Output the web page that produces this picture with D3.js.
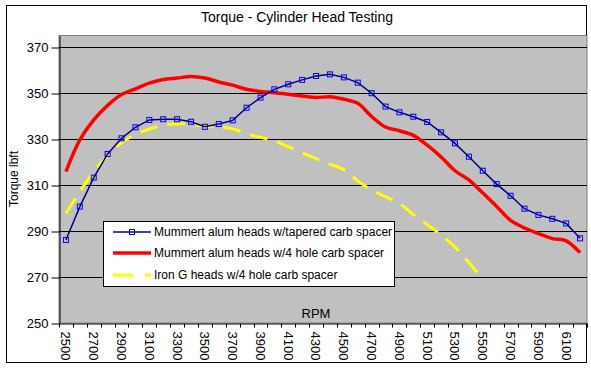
<!DOCTYPE html>
<html><head><meta charset="utf-8">
<script src="https://cdn.jsdelivr.net/npm/d3@7"></script>
<style>body{margin:0;background:#fff}svg{display:block;font-family:"Liberation Sans",Arial,sans-serif}</style>
</head><body><svg id="c" width="591" height="369"></svg>
<script>
const rpm = d3.range(2500, 6201, 100);
const tapered = [286.1,300.6,313.2,323.5,330.3,335.1,338.3,338.6,338.6,337.5,335.3,336.5,338.1,343.6,348.0,351.6,353.8,355.7,357.4,358.1,356.8,354.5,349.9,344.1,341.6,339.7,337.4,332.9,328.1,322.3,316.2,310.4,305.3,299.7,297.0,295.3,293.3,286.8];
const fourHole = [315.8,329.6,338.3,344.6,349.3,351.8,354.3,355.9,356.5,357.2,356.5,354.8,353.4,351.6,350.7,350.1,349.5,348.7,348.0,348.4,347.3,345.5,339.8,335.2,333.6,331.6,327.3,322.2,316.2,312.2,306.5,300.7,294.6,291.3,288.9,286.7,285.7,280.6];
const ironG = [297.6,307.1,315.8,322.6,328.3,332.0,334.3,336.0,336.5,336.5,335.4,335.3,334.4,332.3,330.7,329.2,326.7,324.0,321.5,319.1,316.7,311.8,307.8,304.9,302.0,297.1,292.8,288.3,283.0,276.3,268.9];
const yTicks = [250,270,290,310,330,350,370];
const xLabels = rpm.filter((d,i)=>i%2===0);
const seriesNames = ["Mummert alum heads w/tapered carb spacer","Mummert alum heads w/4 hole carb spacer","Iron G heads w/4 hole carb spacer"];

const svg = d3.select("#c");
const L=59, R=587, T=35.5, B=323;
svg.append("rect").attr("x",6.5).attr("y",5.5).attr("width",580).attr("height",357).attr("fill","#fff").attr("stroke","#000");
svg.append("rect").attr("x",L).attr("y",T).attr("width",R-L).attr("height",B-T).attr("fill","#c0c0c0").attr("stroke","#808080");

const x = d3.scaleBand().domain(rpm).range([L,R]).padding(0);
const y = d3.scaleLinear().domain([250,375]).range([B,T]);
const cx = d => x(d)+x.bandwidth()/2;

// gridlines
svg.append("g").selectAll("line").data(yTicks.slice(1)).join("line")
  .attr("x1",L).attr("x2",R).attr("y1",d=>Math.round(y(d))+0.5).attr("y2",d=>Math.round(y(d))+0.5)
  .attr("stroke","#000");

// y axis
const ya = svg.append("g").attr("transform",`translate(${L+0.5},0)`)
  .call(d3.axisLeft(y).tickValues(yTicks).tickSize(8).tickPadding(3).tickSizeOuter(0));
ya.select(".domain").attr("stroke","#000");
ya.selectAll(".tick line").attr("transform","translate(0,0.5)");
ya.selectAll("text").attr("font-size",13).attr("font-family","Liberation Sans, Arial").attr("fill","#000");

// x axis
const xa = svg.append("g").attr("transform",`translate(0,${B+0.5})`)
  .call(d3.axisBottom(x).tickValues([]).tickSizeOuter(0));
xa.select(".domain").attr("stroke","#000");
xa.selectAll(".bt").data(rpm.concat([6300])).join("line")
  .attr("x1",(d,i)=>Math.round(L+i*x.bandwidth())+0.5).attr("x2",(d,i)=>Math.round(L+i*x.bandwidth())+0.5)
  .attr("y1",0).attr("y2",4).attr("stroke","#000");
xa.selectAll(".lbl").data(xLabels).join("text")
  .attr("transform",d=>`translate(${cx(d)},8) rotate(90)`)
  .attr("dy","0.35em").attr("text-anchor","start")
  .attr("font-size",13).attr("fill","#000").text(d=>d);

// lines
const pts = arr => arr.map((v,i)=>[cx(rpm[i]),y(v)]);
const smooth = d3.line().curve(d3.curveCatmullRom.alpha(0.5));
const straight = d3.line();
svg.append("path").attr("d",smooth(pts(ironG))).attr("fill","none").attr("stroke","#ffff00").attr("stroke-width",3).attr("stroke-dasharray","18,10");
svg.append("path").attr("d",smooth(pts(fourHole))).attr("fill","none").attr("stroke","#ff0000").attr("stroke-width",3.5);
svg.append("path").attr("d",straight(pts(tapered))).attr("fill","none").attr("stroke","#000080").attr("stroke-width",1.5);
svg.append("g").selectAll("rect").data(pts(tapered)).join("rect")
  .attr("x",d=>d[0]-2.5).attr("y",d=>d[1]-2.5).attr("width",5).attr("height",5)
  .attr("fill","none").attr("stroke","#0000ff").attr("stroke-width",1);

// title & axis titles
svg.append("text").attr("x",297).attr("y",22).attr("text-anchor","middle").attr("font-size",14).text("Torque - Cylinder Head Testing");
svg.append("text").attr("transform","translate(18,179) rotate(-90)").attr("text-anchor","middle").attr("font-size",12).text("Torque lbft");
svg.append("text").attr("x",316).attr("y",318).attr("text-anchor","middle").attr("font-size",13).text("RPM");

// legend
const lg = svg.append("g");
lg.append("rect").attr("x",103.5).attr("y",221.5).attr("width",291).attr("height",65).attr("fill","#fff").attr("stroke","#000");
const rowsY = [232,253,275];
lg.append("line").attr("x1",113).attr("x2",151).attr("y1",rowsY[0]).attr("y2",rowsY[0]).attr("stroke","#000080").attr("stroke-width",1.5);
lg.append("rect").attr("x",129.5).attr("y",rowsY[0]-2.5).attr("width",5).attr("height",5).attr("fill","none").attr("stroke","#0000ff");
lg.append("line").attr("x1",113).attr("x2",151).attr("y1",rowsY[1]).attr("y2",rowsY[1]).attr("stroke","#ff0000").attr("stroke-width",3.5);
lg.append("line").attr("x1",113).attr("x2",151).attr("y1",rowsY[2]).attr("y2",rowsY[2]).attr("stroke","#ffff00").attr("stroke-width",3).attr("stroke-dasharray","20,12");
lg.selectAll(".lt").data(seriesNames).join("text")
  .attr("x",154).attr("y",(d,i)=>rowsY[i]).attr("dy","0.35em").attr("font-size",12).text(d=>d);
</script></body></html>
